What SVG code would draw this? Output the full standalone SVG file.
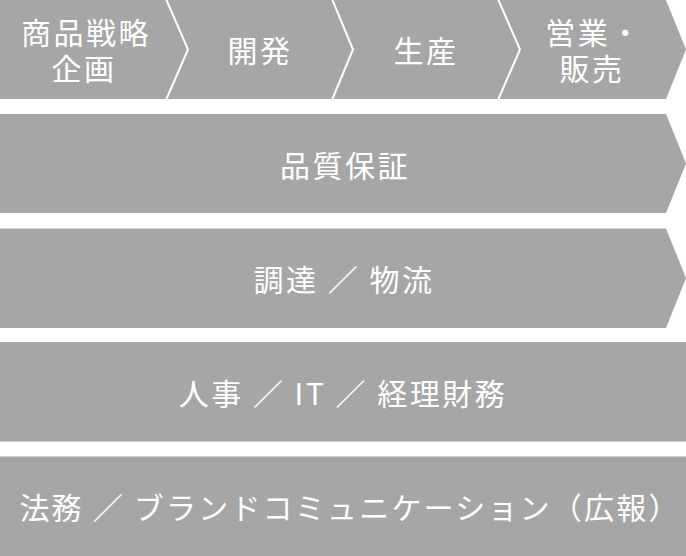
<svg xmlns="http://www.w3.org/2000/svg" width="686" height="556" viewBox="0 0 686 556">
<style>
.shape{fill:#a6a6a6;}
.sep{fill:none;stroke:#ffffff;stroke-width:2;}
.t{fill:#ffffff;font-family:"Noto Sans CJK JP","Noto Sans",sans-serif;font-size:30px;letter-spacing:2.5px;text-anchor:middle;dominant-baseline:central;}
.narrow{letter-spacing:2.2px;}
</style>
<rect x="0" y="0" width="686" height="556" fill="#ffffff"/>
<g id="value-chain">
<polygon class="shape" points="0,0 666,0 686,49.5 666,99 0,99"/>
</g>
<g id="connectors">
<polyline class="sep" points="166,-1 188,49.5 166,100"/>
<polyline class="sep" points="332,-1 353,49.5 332,100"/>
<polyline class="sep" points="498,-1 520,49.5 498,100"/>
</g>
<g id="node-planning">
<text class="t"><tspan x="86" y="31">商品戦略</tspan><tspan x="84" y="67">企画</tspan></text>
</g>
<g id="node-development">
<text class="t" x="260" y="49">開発</text>
</g>
<g id="node-production">
<text class="t" x="426" y="49">生産</text>
</g>
<g id="node-sales">
<text class="t"><tspan x="594" y="31">営業・</tspan><tspan x="592" y="67">販売</tspan></text>
</g>
<g id="node-qa">
<polygon class="shape" points="0,114 666,114 686,163.5 666,213 0,213"/>
<text class="t" x="345" y="163.5">品質保証</text>
</g>
<g id="node-procurement">
<polygon class="shape" points="0,228.5 666,228.5 686,278 666,328 0,328"/>
<text class="t" x="344" y="278">調達 ／ 物流</text>
</g>
<g id="node-hr">
<rect class="shape" x="0" y="342" width="686" height="99.5"/>
<text class="t" x="343" y="392">人事 ／ IT ／ 経理財務</text>
</g>
<g id="node-legal">
<rect class="shape" x="0" y="456.5" width="686" height="99.5"/>
<text class="t narrow" x="350" y="506">法務 ／ ブランドコミュニケーション（広報）</text>
</g>
</svg>
